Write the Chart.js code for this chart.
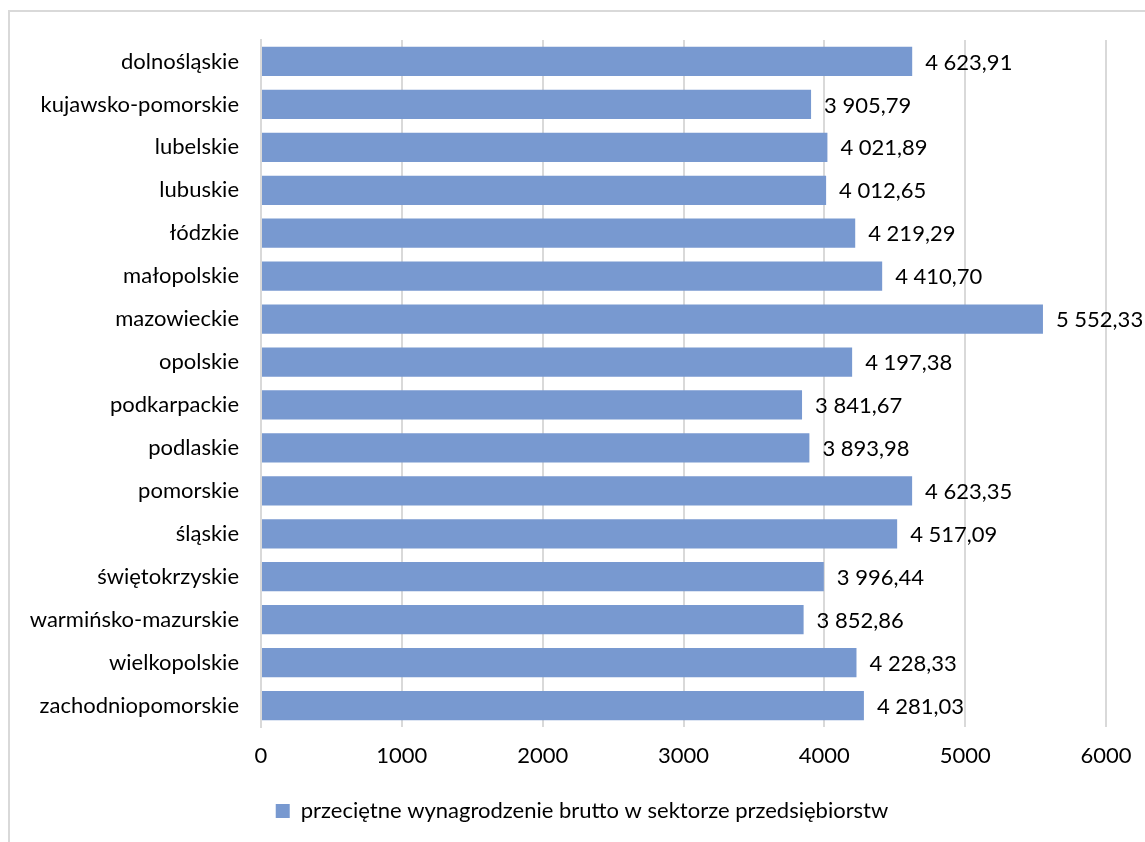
<!DOCTYPE html>
<html lang="pl">
<head>
<meta charset="UTF-8">
<title>Wynagrodzenia wg województw</title>
<script src="https://cdn.jsdelivr.net/npm/chart.js"></script>
<style>
  html, body { margin: 0; padding: 0; background: #fff; overflow: hidden; }
  .ramka {
    position: absolute; left: 8px; top: 10px;
    width: 1200px; height: 900px;
    border-left: 2px solid #d9d9d9; border-top: 2px solid #d9d9d9;
  }
  #wykres { position: absolute; left: 0; top: 0; }
</style>
</head>
<body>
<div class="ramka"></div>
<canvas id="wykres" width="1145" height="842"></canvas>

<script>
// województwa
const wojewodztwa = [
  'dolnośląskie', 'kujawsko-pomorskie', 'lubelskie', 'lubuskie', 'łódzkie',
  'małopolskie', 'mazowieckie', 'opolskie', 'podkarpackie', 'podlaskie',
  'pomorskie', 'śląskie', 'świętokrzyskie', 'warmińsko-mazurskie',
  'wielkopolskie', 'zachodniopomorskie'
];

// przeciętne wynagrodzenie brutto (zł)
const wynagrodzenia = [
  4623.91, 3905.79, 4021.89, 4012.65, 4219.29,
  4410.70, 5552.33, 4197.38, 3841.67, 3893.98,
  4623.35, 4517.09, 3996.44, 3852.86, 4228.33, 4281.03
];

const nazwaSerii = 'przeciętne wynagrodzenie brutto w sektorze przedsiębiorstw';
const osX = { min: 0, max: 6000, krok: 1000 };

const czcionka = "Lato, 'Open Sans', sans-serif";
const rozmiar = 22;
const kolorSlupka = '#7899d0';
const kolorSiatki = '#d9d9d9';

// "4 623,91" - spacja tysięcy, przecinek dziesiętny
function formatuj(v) {
  const [calk, ulamek] = v.toFixed(2).split('.');
  return calk.replace(/\B(?=(\d{3})+(?!\d))/g, ' ') + ',' + ulamek;
}

// etykiety wartości za końcem słupka
const etykietyWartosci = {
  id: 'etykietyWartosci',
  afterDatasetsDraw(chart) {
    const ctx = chart.ctx;
    const meta = chart.getDatasetMeta(0);
    ctx.save();
    ctx.font = rozmiar + 'px ' + czcionka;
    ctx.fillStyle = '#000';
    ctx.textAlign = 'left';
    ctx.textBaseline = 'middle';
    meta.data.forEach((bar, i) => {
      ctx.fillText(formatuj(wynagrodzenia[i]), bar.x + 13, bar.y + 1);
    });
    ctx.restore();
  }
};

// legenda trochę w prawo, pod środek ramki
const przesunLegende = {
  id: 'przesunLegende',
  afterLayout(chart) {
    chart.legend.left += 29;
    chart.legend.right += 29;
  }
};

new Chart(document.getElementById('wykres'), {
  type: 'bar',
  data: {
    labels: wojewodztwa,
    datasets: [{
      label: nazwaSerii,
      data: wynagrodzenia,
      backgroundColor: kolorSlupka,
      borderWidth: 0,
      barPercentage: 0.68,
      categoryPercentage: 1.0
    }]
  },
  options: {
    indexAxis: 'y',
    responsive: false,
    animation: false,
    layout: { padding: { top: 40, right: 39, left: 0, bottom: 10 } },
    scales: {
      x: {
        min: osX.min,
        max: osX.max,
        afterFit(scale) {
          scale.height = 63;
          scale.paddingRight = 0; // prawy margines bierzemy z layout.padding
        },
        ticks: {
          stepSize: osX.krok,
          color: '#000',
          padding: 16,
          font: { family: czcionka, size: rozmiar },
          callback: (v) => String(v)
        },
        grid: { color: kolorSiatki, lineWidth: 2, drawTicks: false },
        border: { display: false }
      },
      y: {
        afterFit(scale) { scale.width = 261; },
        ticks: {
          color: '#000',
          padding: 22,
          font: { family: czcionka, size: rozmiar }
        },
        grid: { display: false, drawTicks: false },
        border: { display: true, color: kolorSiatki, width: 2 }
      }
    },
    plugins: {
      legend: {
        position: 'bottom',
        labels: {
          color: '#000',
          boxWidth: 14,
          boxHeight: 14,
          padding: 10,
          font: { family: czcionka, size: rozmiar }
        }
      },
      tooltip: { enabled: false }
    }
  },
  plugins: [etykietyWartosci, przesunLegende]
});
</script>
</body>
</html>
